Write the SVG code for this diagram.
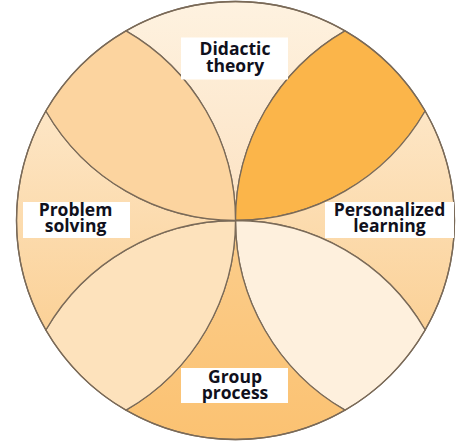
<svg xmlns="http://www.w3.org/2000/svg" width="473" height="446" viewBox="0 0 473 446">
  <style>
    .seg { stroke: #7a6a58; stroke-width: 1.3; stroke-linejoin: round; }
    .box { fill: #ffffff; }
    .lbl { font-family: "Open Sans", "Liberation Sans", sans-serif; font-weight: 700; font-size: 17.5px; fill: #10101c; text-anchor: middle; }
  </style>
  <defs>
    <linearGradient id="gTop" x1="0" y1="0" x2="0" y2="1">
      <stop offset="0" stop-color="#FEF2E0"/>
      <stop offset="1" stop-color="#FCE2C2"/>
    </linearGradient>
    <linearGradient id="gSide" x1="0" y1="0" x2="0" y2="1">
      <stop offset="0" stop-color="#FDE6C6"/>
      <stop offset="1" stop-color="#FBD197"/>
    </linearGradient>
    <linearGradient id="gBottom" x1="0" y1="0" x2="0" y2="1">
      <stop offset="0" stop-color="#FBCD8C"/>
      <stop offset="1" stop-color="#FBC272"/>
    </linearGradient>
  </defs>
  <rect width="473" height="446" fill="#ffffff"/>
  <g id="regions">
    <path id="r-top" class="seg" fill="url(#gTop)" d="M235.5 220.5 A219 219 0 0 0 126 30.84 A219 219 0 0 1 345 30.84 A219 219 0 0 0 235.5 220.5 Z"/>
    <path id="r-topright" class="seg" fill="#FBB54A" d="M235.5 220.5 A219 219 0 0 1 345 30.84 A219 219 0 0 1 425.16 111 A219 219 0 0 1 235.5 220.5 Z"/>
    <path id="r-right" class="seg" fill="url(#gSide)" d="M235.5 220.5 A219 219 0 0 0 425.16 111 A219 219 0 0 1 425.16 330 A219 219 0 0 0 235.5 220.5 Z"/>
    <path id="r-bottomright" class="seg" fill="#FEF0DD" d="M235.5 220.5 A219 219 0 0 1 425.16 330 A219 219 0 0 1 345 410.16 A219 219 0 0 1 235.5 220.5 Z"/>
    <path id="r-bottom" class="seg" fill="url(#gBottom)" d="M235.5 220.5 A219 219 0 0 0 345 410.16 A219 219 0 0 1 126 410.16 A219 219 0 0 0 235.5 220.5 Z"/>
    <path id="r-bottomleft" class="seg" fill="#FDE2BC" d="M235.5 220.5 A219 219 0 0 1 126 410.16 A219 219 0 0 1 45.84 330 A219 219 0 0 1 235.5 220.5 Z"/>
    <path id="r-left" class="seg" fill="url(#gSide)" d="M235.5 220.5 A219 219 0 0 0 45.84 330 A219 219 0 0 1 45.84 111 A219 219 0 0 0 235.5 220.5 Z"/>
    <path id="r-topleft" class="seg" fill="#FCD49F" d="M235.5 220.5 A219 219 0 0 1 45.84 111 A219 219 0 0 1 126 30.84 A219 219 0 0 1 235.5 220.5 Z"/>
    <circle cx="235.5" cy="220.5" r="219" fill="none" class="seg"/>
  </g>
  <g id="didactic-theory">
    <rect class="box" x="181" y="37.5" width="107" height="42"/>
    <text class="lbl" x="235" y="54.5"><tspan x="235">Didactic</tspan><tspan x="235" dy="17">theory</tspan></text>
  </g>
  <g id="problem-solving">
    <rect class="box" x="23" y="202" width="107" height="36"/>
    <text class="lbl" x="75.5" y="215.5"><tspan x="75.5">Problem</tspan><tspan x="75.5" dy="16.5">solving</tspan></text>
  </g>
  <g id="personalized-learning">
    <rect class="box" x="325" y="202" width="129" height="36"/>
    <text class="lbl" x="389.5" y="215.5"><tspan x="389.5">Personalized</tspan><tspan x="389.5" dy="16.5">learning</tspan></text>
  </g>
  <g id="group-process">
    <rect class="box" x="181" y="368" width="107" height="35"/>
    <text class="lbl" x="235" y="382.5"><tspan x="235">Group</tspan><tspan x="235" dy="16">process</tspan></text>
  </g>
</svg>
